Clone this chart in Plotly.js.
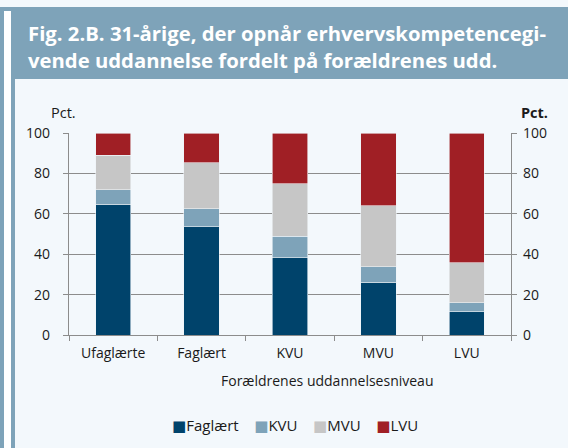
<!DOCTYPE html>
<html>
<head>
<meta charset="utf-8">
<script src="https://cdn.plot.ly/plotly-3.0.1.min.js"></script>
<style>html,body{margin:0;padding:0;background:#f3f8fc;}#chart{width:568px;height:448px;}</style>
</head>
<body>
<div id="chart"></div>
<script>
// ---- data ----
const categories = ["Ufaglærte", "Faglært", "KVU", "MVU", "LVU"];
const seriesNames = ["Faglært", "KVU", "MVU", "LVU"];
const faglaert = [64.7, 53.6, 38.3, 26.2, 11.4];
const kvu = [7.1, 8.8, 10.7, 7.6, 4.6];
const mvu = [17.2, 22.9, 25.8, 30.1, 19.8];
const lvu = [11.0, 14.7, 25.2, 36.1, 64.2];
const yTicks = [0, 20, 40, 60, 80, 100];
const titleLines = ["Fig. 2.B. 31-årige, der opnår erhvervskompetencegi-", "vende uddannelse fordelt på forældrenes udd."];
const xTitle = "Forældrenes uddannelsesniveau";
const unitLabel = "Pct.";

// ---- style ----
const colors = ["#00436b", "#7ea3b9", "#c6c6c6", "#a01f25"];
const W = 568, H = 448;
const M = {l: 69, r: 57, t: 133, b: 113};
const PW = W - M.l - M.r, PH = H - M.t - M.b;
const px = x => (x - M.l) / PW;
const py = y => (H - M.b - y) / PH;
const FONT = "Open Sans, sans-serif";
const grid = "#8c8c8c";
const txt = "#1a1a1a";

const values = [faglaert, kvu, mvu, lvu];
const traces = values.map((v, i) => ({
  type: "bar", name: seriesNames[i], x: categories, y: v,
  marker: {color: colors[i], line: {color: "#eef3f7", width: 0.6}},
  hoverinfo: "name+y", showlegend: false
}));
traces.push({type: "scatter", mode: "markers", x: categories, y: faglaert, yaxis: "y2",
  marker: {opacity: 0}, showlegend: false, hoverinfo: "skip"});

// legend built from series names and colours
const sp = "&nbsp;&nbsp;&nbsp;&nbsp;";
const legendText = seriesNames.map((n, i) =>
  '<span style="color:' + colors[i] + ';font-family:DejaVu Sans">■</span>' + n).join(sp);

const layout = {
  width: W, height: H,
  margin: M,
  paper_bgcolor: "#f3f8fc", plot_bgcolor: "#f3f8fc",
  barmode: "stack", bargap: 0.6,
  font: {family: FONT, size: 14, color: txt},
  showlegend: false,
  xaxis: {type: "category", range: [-0.5, 4.5], tickson: "boundaries", ticks: "outside", ticklen: 5,
    tickcolor: grid, showline: true, linecolor: grid, linewidth: 1.3, showgrid: false, automargin: false,
    tickfont: {size: 14, color: txt}, ticklabelstandoff: 5, fixedrange: true},
  yaxis: {range: [0, 100], tickvals: yTicks, ticks: "outside", ticklen: 5, tickcolor: grid, automargin: false,
    showline: true, linecolor: grid, linewidth: 1.3, showgrid: true, gridcolor: grid, gridwidth: 1.3,
    zeroline: false, tickfont: {size: 14, color: txt}, ticklabelstandoff: 10, fixedrange: true},
  yaxis2: {range: [0, 100], tickvals: yTicks, overlaying: "y", side: "right", ticks: "outside", ticklen: 5,
    tickcolor: grid, showline: true, linecolor: grid, linewidth: 1.3, showgrid: false, zeroline: false, automargin: false,
    tickfont: {size: 14, color: txt}, ticklabelstandoff: 3, fixedrange: true},
  shapes: [
    {type: "rect", xref: "paper", yref: "paper", x0: px(0), x1: px(W), y0: py(7), y1: py(H), fillcolor: "#7ea3b9", line: {width: 0}, layer: "below"},
    {type: "rect", xref: "paper", yref: "paper", x0: px(4), x1: px(11), y0: py(11), y1: py(H), fillcolor: "#ffffff", line: {width: 0}, layer: "below"},
    {type: "rect", xref: "paper", yref: "paper", x0: px(15), x1: px(W), y0: py(79), y1: py(H), fillcolor: "#f3f8fc", line: {width: 0}, layer: "below"}
  ],
  annotations: [
    {text: titleLines[0], xref: "paper", yref: "paper", x: px(26), y: py(33), xanchor: "left", yanchor: "middle",
      showarrow: false, font: {family: FONT, size: 20.3, color: "#ffffff", weight: 700}},
    {text: titleLines[1], xref: "paper", yref: "paper", x: px(26), y: py(60), xanchor: "left", yanchor: "middle",
      showarrow: false, font: {family: FONT, size: 20.3, color: "#ffffff", weight: 700}},
    {text: unitLabel, xref: "paper", yref: "paper", x: px(63), y: py(113), xanchor: "center", yanchor: "middle",
      showarrow: false, font: {size: 14.5, color: txt}},
    {text: "<b>" + unitLabel + "</b>", xref: "paper", yref: "paper", x: px(534.5), y: py(113), xanchor: "center", yanchor: "middle",
      showarrow: false, font: {size: 14.5, color: txt}},
    {text: xTitle, xref: "paper", yref: "paper", x: px(327), y: py(380), xanchor: "center", yanchor: "middle",
      showarrow: false, font: {size: 14, color: txt}},
    {text: legendText, xref: "paper", yref: "paper", x: px(294.5), y: py(424.5), xanchor: "center", yanchor: "middle",
      showarrow: false, font: {size: 15, color: txt}}
  ]
};

Plotly.newPlot("chart", traces, layout, {displayModeBar: false});
</script>
</body>
</html>
